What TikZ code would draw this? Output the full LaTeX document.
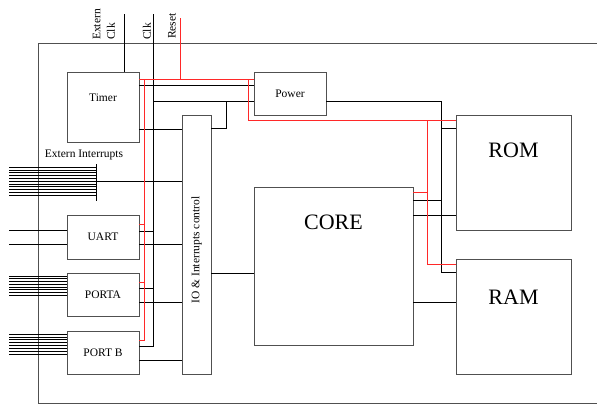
\documentclass[tikz,border=0pt]{standalone}
\usepackage{fontspec}
\setmainfont{Liberation Serif}
\usetikzlibrary{positioning,calc}
\definecolor{boxgray}{RGB}{80,80,80}
\definecolor{resetred}{RGB}{255,40,40}

\begin{document}
\begin{tikzpicture}[x=1pt, y=-1pt,
    block/.style={rectangle, draw=boxgray, line width=0.9pt, inner sep=0pt,
                  minimum width=72pt, minimum height=43pt,
                  font=\fontsize{11.5}{14}\selectfont},
    bigblock/.style={rectangle, draw=boxgray, line width=0.9pt, inner sep=0pt,
                     minimum width=115pt, minimum height=115pt},
    biglabel/.style={font=\fontsize{22}{26}\selectfont, inner sep=0pt},
    smalllabel/.style={font=\fontsize{11.5}{14.5}\selectfont, inner sep=0pt},
    pinlabel/.style={smalllabel, rotate=90, anchor=west, align=left},
    wire/.style={draw=black, line width=0.7pt},
    rwire/.style={draw=resetred, line width=0.7pt},
    busline/.style={draw=black, line width=0.6pt}
]
\useasboundingbox (0,0) rectangle (597,408);

% chip outline, open to the right
\draw[boxgray, line width=0.9pt] (597,43) -| (38,403) -- (597,403);

% blocks
\node[block, minimum height=70pt] (timer) at (103,107) {};
\node[smalllabel] (timerlbl) at ([yshift=9pt]timer.center) {Timer};
\node[block] (power) at (290,93.5) {Power};
\node[block, minimum width=29pt, minimum height=259pt] (io) at (196.5,244.5) {};
\node[smalllabel, rotate=90] (iolbl) at ([yshift=-5.5pt]io.center) {IO \& Interrupts control};
\node[block, minimum height=44pt] (uart) at (103,237) {UART};
\node[block] (porta) at (103,294.5) {PORTA};
\node[block] (portb) at (103,352.5) {PORT B};
\node[bigblock, minimum width=159pt, minimum height=158pt] (core) at (333.5,266) {};
\node[biglabel] (corelbl) at ([yshift=44pt]core.center) {CORE};
\node[bigblock] (rom) at (513.5,172.5) {};
\node[biglabel] (romlbl) at ([yshift=22.5pt]rom.center) {ROM};
\node[bigblock] (ram) at (513.5,316.5) {};
\node[biglabel] (ramlbl) at ([yshift=19.5pt]ram.center) {RAM};

% pin labels
\node[pinlabel] (eclklbl) at (104,40) {Extern\\Clk};
\node[pinlabel] (clklbl) at (147,40) {Clk};
\node[pinlabel] (resetlbl) at (172,39) {Reset};
\node[smalllabel] (intlbl) at (84,155) {Extern Interrupts};

% pins and bus positions
\coordinate (eclk) at (124,14);
\coordinate (clk) at (153,14);
\coordinate (reset) at (180,18);
\coordinate (intbus) at (96,181);
\coordinate (edge) at (9,0);
\coordinate (rbusx) at (144,0);
\coordinate (rpx) at (248,0);
\coordinate (rmx) at (427,0);
\coordinate (ptap) at (226,0);
\coordinate (ctlx) at (441,0);
\coordinate (romctl) at ([yshift=-14pt]rom.north west);
\coordinate (ramctl) at ([yshift=-14pt]ram.north west);
\coordinate (corectl) at ([yshift=-14pt]core.north east);
\coordinate (romrst) at ([yshift=-6pt]rom.north west);
\coordinate (ramrst) at ([yshift=-6pt]ram.north west);

% outside inputs
\draw[wire] (eclk) -- (eclk |- timer.north);
\draw[wire] ([yshift=7pt]uart.west) coordinate (u1) -- (u1 -| edge);
\draw[wire] ([yshift=-7pt]uart.west) coordinate (u2) -- (u2 -| edge);
\draw[wire] ([yshift=17pt]intbus) -- ([yshift=-20pt]intbus);
\foreach \i in {0,...,10}
    \draw[busline] ([yshift={(14-2.8*\i)*1pt}]intbus) coordinate (b) -- (b -| edge);
\foreach \i in {0,...,7} {
    \draw[busline] ([yshift={(18.5-2.7*\i)*1pt}]porta.west) coordinate (b) -- (b -| edge);
    \draw[busline] ([yshift={(18.5-2.85*\i)*1pt}]portb.west) coordinate (b) -- (b -| edge);
}

% clock bus
\draw[wire] (clk) |- ([yshift=6.5pt]portb.east);
\draw[wire] ([yshift=6pt]uart.east) coordinate (c1) -- (c1 -| clk);
\draw[wire] ([yshift=6.5pt]porta.east) coordinate (c2) -- (c2 -| clk);
\draw[wire] ([yshift=-7.5pt]power.west) coordinate (pw) -- (pw -| clk);
\draw[wire] ([yshift=-14pt]io.north east) coordinate (ioe) -| (ptap |- pw);
\draw[wire] ([yshift=-14pt]timer.north east) -- ([yshift=-14pt]power.north west);

% data to IO
\draw[wire] ([yshift=-22pt]timer.east) coordinate (t1) -- (t1 -| io.west);
\draw[wire] (intbus) -- (intbus -| io.west);
\draw[wire] ([yshift=-7pt]uart.east) coordinate (d1) -- (d1 -| io.west);
\draw[wire] ([yshift=-7.5pt]porta.east) coordinate (d2) -- (d2 -| io.west);
\draw[wire] ([yshift=-7.5pt]portb.east) coordinate (d3) -- (d3 -| io.west);
\draw[wire] ([yshift=-7pt]core.west) coordinate (d4) -- (d4 -| io.east);

% core to memories
\draw[wire] ([yshift=-7.5pt]power.east) -| (ramctl -| ctlx) -- (ramctl);
\draw[wire] (romctl -| ctlx) -- (romctl);
\draw[wire] (corectl) -- (corectl -| ctlx);
\draw[wire] ([yshift=-29pt]core.north east) coordinate (m1) -- (m1 -| rom.west);
\draw[wire] ([yshift=-36pt]core.east) coordinate (m2) -- (m2 -| ram.west);

% reset lines
\draw[rwire] ([yshift=-8pt]timer.north east) coordinate (rtop) -- ([yshift=-8pt]power.north west);
\draw[rwire] (reset) -- (reset |- rtop);
\draw[rwire] (rtop -| rbusx) |- ([yshift=12.5pt]portb.east);
\draw[rwire] ([yshift=13pt]uart.east) coordinate (r1) -- (r1 -| rbusx);
\draw[rwire] ([yshift=12.5pt]porta.east) coordinate (r2) -- (r2 -| rbusx);
\draw[rwire] (rtop -| rpx) |- (romrst);
\draw[rwire] (romrst -| rmx) |- (ramrst);
\draw[rwire] ([yshift=-6pt]core.north east) coordinate (r3) -- (r3 -| rmx);

\end{tikzpicture}
\end{document}
